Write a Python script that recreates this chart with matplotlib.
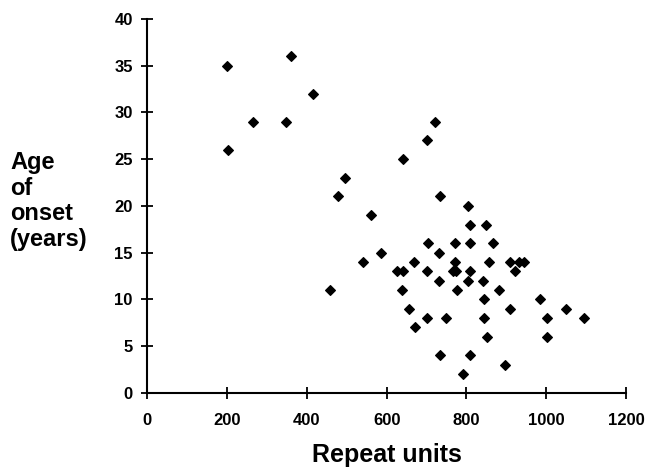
import matplotlib.pyplot as plt
import numpy as np

plt.rcParams['font.family'] = ['Liberation Sans', 'DejaVu Sans']

# repeat units vs age of onset
repeat_units = [200, 360, 415, 265, 348, 202, 495, 478,
                720, 702, 642, 734, 804, 808, 849,
                704, 772, 808, 866,
                561, 587, 732,
                540, 668, 772, 856, 909, 931, 944,
                627, 642, 702, 766, 774, 808, 922,
                732, 804, 841,
                458, 638, 776, 881,
                843, 985,
                657, 909, 1049,
                701, 750, 843, 1001, 1096,
                670,
                851, 1001,
                734, 808,
                897,
                792]
age_onset = [35, 36, 32, 29, 29, 26, 23, 21,
             29, 27, 25, 21, 20, 18, 18,
             16, 16, 16, 16,
             19, 15, 15,
             14, 14, 14, 14, 14, 14, 14,
             13, 13, 13, 13, 13, 13, 13,
             12, 12, 12,
             11, 11, 11, 11,
             10, 10,
             9, 9, 9,
             8, 8, 8, 8, 8,
             7,
             6, 6,
             4, 4,
             3,
             2]

x_ticks = np.arange(0, 1201, 200)
y_ticks = np.arange(0, 41, 5)

fig = plt.figure(figsize=(6.47, 4.76), dpi=100)
ax = fig.add_axes([0.2277, 0.1752, 0.7398, 0.7848])

ax.plot(repeat_units, age_onset, 'D', color='black', markersize=4.6,
        markeredgewidth=0.8, linestyle='none')

ax.set_xlim(0, 1200)
ax.set_ylim(0, 40)
ax.set_xticks(x_ticks)
ax.set_yticks(y_ticks)

for side in ['top', 'right']:
    ax.spines[side].set_visible(False)
for side in ['left', 'bottom']:
    ax.spines[side].set_linewidth(1.5)

ax.tick_params(direction='inout', length=9, width=1.3, labelsize=12)
ax.tick_params(axis='x', pad=10)
ax.tick_params(axis='y', pad=6)
for lbl in ax.get_xticklabels() + ax.get_yticklabels():
    lbl.set_fontweight('bold')

ax.set_xlabel('Repeat units', fontsize=18, fontweight='bold', labelpad=11)
fig.text(0.016, 0.578, 'Age\nof\nonset\n(years)', fontsize=17, fontweight='bold',
         ha='left', va='center', linespacing=1.15)

plt.savefig('out.png', dpi=100)
